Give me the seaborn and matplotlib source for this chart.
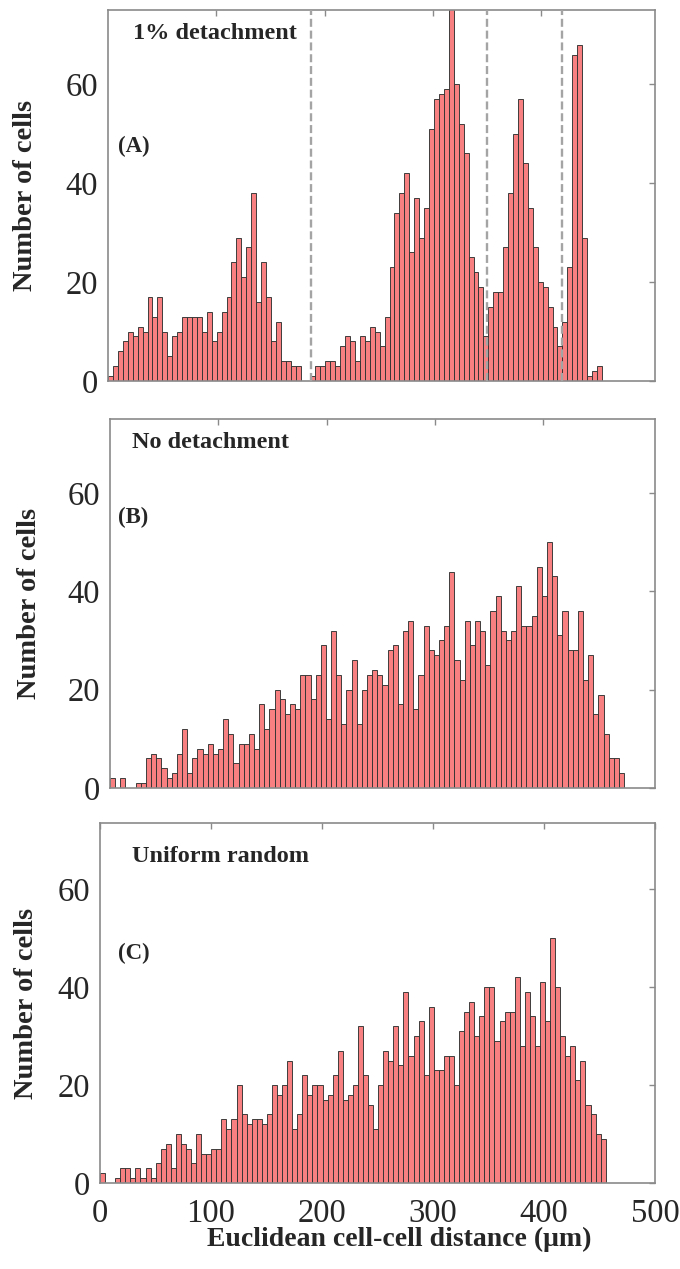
import numpy as np
import pandas as pd
import matplotlib
matplotlib.use('Agg')
import matplotlib.pyplot as plt
import seaborn as sns

# Counts per bin (100 bins per panel)
counts_a = [1, 3, 6, 8, 10, 9, 11, 10, 17, 13, 17, 10, 5, 9, 10, 13, 13, 13, 13, 10,
            14, 8, 10, 14, 17, 24, 29, 21, 27, 38, 16, 24, 17, 8, 12, 4, 4, 3, 3, 0,
            0, 1, 3, 3, 4, 4, 3, 7, 9, 8, 4, 9, 8, 11, 10, 7, 13, 23, 34, 38,
            42, 26, 37, 29, 35, 51, 57, 58, 59, 78, 60, 52, 46, 25, 22, 19, 9, 15, 18, 18,
            27, 38, 50, 57, 44, 35, 27, 20, 19, 15, 11, 7, 12, 23, 66, 68, 29, 1, 2, 3]
counts_b = [2, 0, 2, 0, 0, 1, 1, 6, 7, 6, 4, 2, 3, 7, 12, 3, 6, 8, 7, 9,
            7, 8, 14, 11, 5, 9, 9, 11, 8, 17, 12, 16, 20, 18, 15, 17, 16, 23, 23, 18,
            23, 29, 14, 32, 23, 13, 20, 26, 13, 20, 23, 24, 23, 21, 28, 29, 17, 32, 34, 16,
            23, 33, 28, 27, 30, 33, 44, 26, 22, 34, 29, 34, 32, 25, 36, 39, 32, 30, 32, 41,
            33, 33, 35, 45, 39, 50, 43, 31, 36, 28, 28, 36, 22, 27, 15, 19, 11, 6, 6, 3]
counts_c = [2, 0, 0, 1, 3, 3, 1, 3, 1, 3, 1, 4, 7, 8, 3, 10, 8, 7, 4, 10,
            6, 6, 7, 7, 13, 11, 13, 20, 14, 12, 13, 13, 12, 14, 20, 18, 20, 25, 11, 14,
            22, 18, 20, 20, 17, 18, 22, 27, 17, 18, 20, 32, 22, 16, 11, 20, 27, 25, 32, 24,
            39, 26, 30, 33, 22, 36, 23, 23, 26, 26, 20, 31, 35, 37, 30, 34, 40, 40, 29, 33,
            35, 35, 42, 28, 39, 34, 28, 41, 33, 50, 40, 30, 26, 28, 21, 25, 16, 14, 10, 9]

# data range covered by the bins, and the axis range of each panel
range_a = (0, 456)
range_b = (0, 474.5)
range_c = (0, 455.6)
xlim_a = (0, 505)
xlim_b = (0, 503)
xlim_c = (0, 500)

cut_lines_a = [187, 350, 419]

titles = ['1% detachment', 'No detachment', 'Uniform random']
tags = ['(A)', '(B)', '(C)']
yticks = [0, 20, 40, 60]
xticks = [0, 100, 200, 300, 400, 500]

sns.set_style('white')
plt.rcParams['font.family'] = ['Liberation Serif', 'DejaVu Serif']

W, H = 680, 1269
fig = plt.figure(figsize=(W / 100, H / 100), dpi=100)

# pixel boxes: left, top, right, bottom
boxes = [(108, 10, 655, 381), (110, 419, 655, 788), (100, 823, 655, 1183)]
panels = [
    (counts_a, range_a, xlim_a, 75),
    (counts_b, range_b, xlim_b, 75),
    (counts_c, range_c, xlim_c, 73.5),
]
title_pos = [(0.046, 0.938), (0.040, 0.935), (0.058, 0.906)]
tag_pos = [(0.018, 0.631), (0.015, 0.734), (0.032, 0.639)]
ylab_x = [-0.150, -0.147, -0.133]

bar_face = '#f88080'
bar_edge = '#333333'
frame = '#8a8a8a'

axes = []
for i, (counts, rng, xlim, ytop) in enumerate(panels):
    l, t, r, b = boxes[i]
    ax = fig.add_axes([l / W, 1 - b / H, (r - l) / W, (b - t) / H])
    axes.append(ax)

    n = len(counts)
    edges = np.linspace(rng[0], rng[1], n + 1)
    df = pd.DataFrame({'dist': (edges[:-1] + edges[1:]) / 2, 'n': counts})
    sns.histplot(data=df, x='dist', weights='n', bins=n, binrange=rng, ax=ax,
                 color=bar_face, edgecolor=bar_edge, linewidth=0.65, alpha=1)

    ax.set_xlim(*xlim)
    ax.set_ylim(0, ytop)
    ax.set_yticks(yticks)
    ax.set_yticklabels([str(v) for v in yticks], fontsize=23.5)
    ax.tick_params(direction='in', top=True, right=True, length=4, width=1,
                   color=frame)
    ax.tick_params(axis='y', pad=7)
    if i < 2:
        ax.set_xticks([100, 200, 300, 400])
        ax.tick_params(axis='x', labelbottom=False)
        ax.set_xlabel('')
    else:
        ax.set_xticks(xticks)
        ax.set_xticklabels([str(v) for v in xticks], fontsize=23.5)
        ax.tick_params(axis='x', pad=11)
        ax.set_xlabel('Euclidean cell-cell distance (μm)', fontsize=20,
                      fontweight='bold')
        ax.xaxis.set_label_coords(0.54, -0.158)
        ax.xaxis.label.set_va('center')

    for s in ax.spines.values():
        s.set_color(frame)
        s.set_linewidth(1.2)
        s.set_visible(True)

    ax.set_ylabel('Number of cells', fontsize=20.5, fontweight='bold')
    ax.yaxis.set_label_coords(ylab_x[i], 0.5)
    ax.yaxis.label.set_va('center')

    ax.text(title_pos[i][0], title_pos[i][1], titles[i], transform=ax.transAxes,
            fontsize=17.5, fontweight='bold', ha='left', va='center')
    ax.text(tag_pos[i][0], tag_pos[i][1], tags[i], transform=ax.transAxes,
            fontsize=16.5, fontweight='bold', ha='left', va='center')

for x in cut_lines_a:
    axes[0].axvline(x, color='#a4a4a4', linestyle=(0, (3.4, 1.6)), linewidth=1.7,
                    zorder=3)

fig.savefig('out.png', dpi=100)
